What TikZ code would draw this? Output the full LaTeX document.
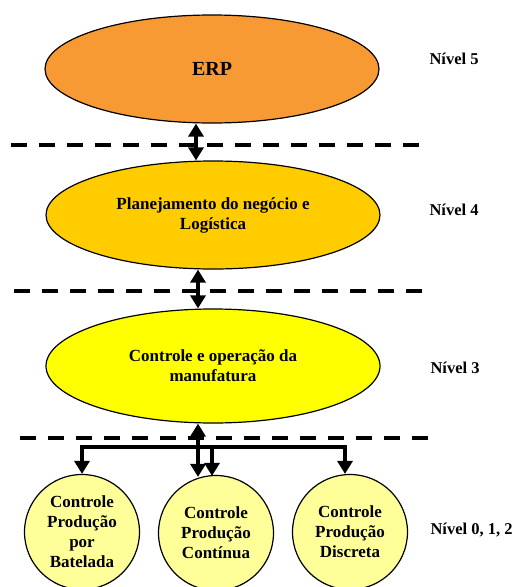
\documentclass[tikz,border=0pt]{standalone}
\usepackage{fontspec}
\setmainfont{Liberation Serif}
\usetikzlibrary{shapes.geometric,arrows.meta}
\definecolor{erpfill}{RGB}{248,154,52}
\definecolor{planfill}{RGB}{255,204,0}
\definecolor{ctlfill}{RGB}{255,255,0}
\definecolor{procfill}{RGB}{255,255,153}
\tikzset{
  level/.style={ellipse,draw=black,line width=1.2pt,minimum width=334pt,minimum height=108pt,
    inner sep=0pt,align=center,font=\fontsize{17}{20}\selectfont\bfseries},
  proc/.style={circle,draw=black,line width=1.2pt,fill=procfill,minimum size=115pt,inner sep=0pt,
    align=center,font=\fontsize{17}{20}\selectfont\bfseries},
  tag/.style={anchor=west,font=\fontsize{16.5}{19}\selectfont\bfseries},
  sep/.style={line width=4pt,dash pattern=on 16pt off 12pt},
  link/.style={line width=3.5pt,{Triangle[width=15pt,length=13pt]}-{Triangle[width=15pt,length=13pt]}},
  feed/.style={line width=3.5pt,-{Triangle[width=15pt,length=13pt]}}
}
\begin{document}
\begin{tikzpicture}[x=1pt,y=-1pt]
\useasboundingbox (0,0) rectangle (518,587);
% hierarchy levels
\node[level,fill=erpfill,font=\fontsize{20}{24}\selectfont\bfseries] (erp) at (212,69) {ERP};
\node[level,fill=planfill] (plan) at (213,215) {Planejamento do negócio e\\Logística};
\node[level,fill=ctlfill,minimum height=114pt] (ctl) at (213,366) {Controle e operação da\\manufatura};
% production control units
\node[proc] (c1) at (82,532) {Controle\\Produção\\por\\Batelada};
\node[proc] (c2) at (216,533) {Controle\\Produção\\Contínua};
\node[proc] (c3) at (350,532) {Controle\\Produção\\Discreta};
% level labels
\node[tag] (n5) at (426,59) {Nível 5};
\node[tag] (n4) at (426,210) {Nível 4};
\node[tag] (n3) at (427,368) {Nível 3};
\node[tag] (n0) at (427,530) {Nível 0, 1, 2};
% level separators
\draw[sep] (11,145) -- (421,145);
\draw[sep] (14,291) -- (424,291);
\draw[sep] (20,438) -- (430,438);
% links between levels
\draw[link] ([xshift=-16pt]erp.south) -- ([xshift=-17pt]plan.north);
\draw[link] ([xshift=-15pt]plan.south) -- ([xshift=-15pt]ctl.north);
\draw[link] ([xshift=-15pt]ctl.south) -- ([xshift=-18pt,yshift=-2pt]c2.north);
% distribution bus to the units
\coordinate (busR) at (345,447);
\coordinate (busM) at (212,447);
\draw[link,line join=miter] (c1.north) |- (busR) -- ([xshift=-5pt]c3.north);
\draw[feed] (busM) -- ([xshift=-4pt,yshift=-1pt]c2.north);
\end{tikzpicture}
\end{document}
